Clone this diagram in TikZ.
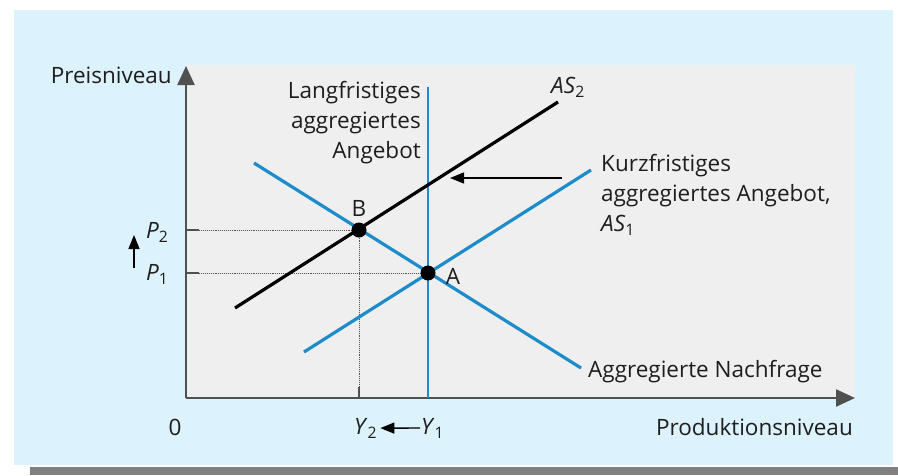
\documentclass[tikz,border=0pt]{standalone}
\usepackage{fontspec}
\setmainfont{Open Sans}
\usetikzlibrary{arrows.meta,positioning,calc}
\definecolor{sky}{HTML}{DCF2FC}
\definecolor{panel}{HTML}{EFEFEF}
\definecolor{curveblue}{HTML}{1E8CCB}
\definecolor{axisgray}{HTML}{505050}
\definecolor{bar}{HTML}{7F7F7F}
\definecolor{ink}{HTML}{1E1E1E}
\newcommand{\sym}[2]{\textit{#1}\textsubscript{#2}}

\begin{document}
\begin{tikzpicture}[x=1pt,y=-1pt,font=\fontsize{22.5}{30}\selectfont,text=ink,
   axis/.style={axisgray,line width=2.4pt,-{Triangle[length=19pt,width=17pt]}},
   demand/.style={curveblue,line width=3.2pt},
   supply/.style={black,line width=3.2pt},
   guide/.style={axisgray,densely dotted,line width=0.9pt},
   tickmark/.style={axisgray,line width=2pt},
   dot/.style={circle,fill=black,inner sep=0pt,minimum size=15pt},
   shiftarrow/.style={black,line width=1.4pt,-{Triangle[length=14pt,width=11pt]}},
   lbl/.style={inner sep=0pt}]
  % background panels
  \fill[white] (0,0) rectangle (898,475);
  \fill[sky] (14,10) rectangle (893,465);
  \fill[bar] (30,467) rectangle (898,475);
  \fill[panel] (185,65) rectangle (855,398);
  % axes
  \coordinate (O) at (186,398);
  \coordinate (ytip) at (186,66);
  \coordinate (xtip) at (855,398);
  \draw[axis] (O) -- (ytip);
  \draw[axis] (O) -- (xtip);
  \node[lbl,anchor=base east] (ylab) at (172,83) {Preisniveau};
  \node[lbl,anchor=base east] (xlab) at (853,435) {Produktionsniveau};
  \node[lbl,anchor=base] (zero) at (175,435) {0};
  % equilibria
  \coordinate (B) at (359,230);
  \coordinate (A) at (428,273);
  \draw[guide] (O |- B) -- (B);
  \draw[guide] (O |- A) -- (A);
  \draw[guide] (B) -- (B |- O);
  \draw[tickmark] (O |- B) -- ++(13,0);
  \draw[tickmark] (O |- A) -- ++(13,0);
  \draw[tickmark] (B |- O) -- ++(0,-11);
  % long-run supply
  \coordinate (lr1) at (428,398);
  \coordinate (lr2) at (428,87);
  \draw[curveblue,line width=2.4pt] (lr1) -- (lr2);
  \node[lbl,align=right,anchor=north east] (lrasl) at (421,81) {Langfristiges\\aggregiertes\\Angebot};
  % demand
  \coordinate (ad1) at (254,163);
  \coordinate (ad2) at (581,368);
  \draw[demand] (ad1) -- (ad2);
  \node[lbl,anchor=base west] (adl) at (588,377) {Aggregierte Nachfrage};
  % short-run supply
  \coordinate (as1a) at (304,352);
  \coordinate (as1b) at (591,170);
  \draw[demand] (as1a) -- (as1b);
  \node[lbl,align=left,anchor=north west] (as1l) at (601,154) {Kurzfristiges\\aggregiertes Angebot,\\\sym{AS}{1}};
  \coordinate (as2a) at (235,308);
  \coordinate (as2b) at (558,102);
  \draw[supply] (as2a) -- (as2b);
  \node[lbl,anchor=base west] (as2l) at (551,93) {\sym{AS}{2}};
  % shift
  \coordinate (s1) at (562,178);
  \coordinate (s2) at (450,178);
  \draw[shiftarrow] (s1) -- (s2);
  % points
  \node[dot] (Bpt) at (B) {};
  \node[dot] (Apt) at (A) {};
  \node[lbl,above=6pt of Bpt] (Bl) {B};
  \node[lbl,right=10pt of Apt,yshift=-3pt] (Al) {A};
  % price and output labels
  \node[lbl,anchor=base west] (p2) at (146,238) {\sym{P}{2}};
  \node[lbl,anchor=base west] (p1) at (146,280) {\sym{P}{1}};
  \coordinate (pa1) at (134,268);
  \coordinate (pa2) at (134,235);
  \draw[shiftarrow] (pa1) -- (pa2);
  \node[lbl,anchor=base west] (y2) at (354,434) {\sym{Y}{2}};
  \node[lbl,anchor=base west] (y1) at (421,434) {\sym{Y}{1}};
  \draw[shiftarrow,shorten <=1pt,shorten >=3pt] (y1.west) -- (y2.east);
\end{tikzpicture}
\end{document}
